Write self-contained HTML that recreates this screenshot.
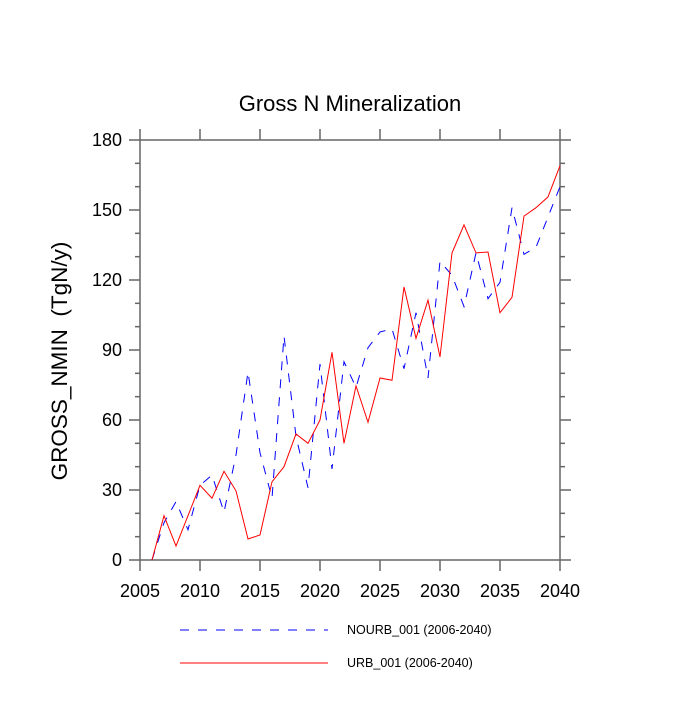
<!DOCTYPE html>
<html><head><meta charset="utf-8"><style>
body{margin:0;background:#fff;}
svg text{font-family:"Liberation Sans",sans-serif;fill:#000;}
</style></head><body>
<svg id="chart" width="700" height="700">
<text x="350" y="111" font-size="22" text-anchor="middle">Gross N Mineralization</text>
<text transform="translate(67,361) rotate(-90)" font-size="22.5" text-anchor="middle" style="white-space:pre">GROSS_NMIN  (TgN/y)</text>
<g id="axes"></g>
<g id="series"></g>
<g id="legend">
<line x1="180" y1="630" x2="328" y2="630" stroke="#0000ff" stroke-width="1" stroke-dasharray="9,9"/>
<text x="347" y="634" font-size="12.5">NOURB_001 (2006-2040)</text>
<line x1="180" y1="663" x2="328" y2="663" stroke="#ff0000" stroke-width="1"/>
<text x="347" y="667" font-size="12.5">URB_001 (2006-2040)</text>
</g>
</svg>
<script>
const years=[2006,2007,2008,2009,2010,2011,2012,2013,2014,2015,2016,2017,2018,2019,2020,2021,2022,2023,2024,2025,2026,2027,2028,2029,2030,2031,2032,2033,2034,2035,2036,2037,2038,2039,2040];
const urb=[0,19,6,19,32,26.5,38,29.6,9,10.7,33.5,40,54,50,60,89,50,74.6,59,78,77,117,95,111.4,87,131.6,143.6,131.6,132,106,112.6,147.4,151,155.6,169];
const nourb=[0,16,25,13,32,36.4,20.5,45,80.6,46,26.5,96,53,31,84,39,85,74,91,97.7,99,82,106,78,128,122,108.6,131.6,112,119,151,131,134,147,160];
const xTicks=[2005,2010,2015,2020,2025,2030,2035,2040];
const yTicks=[0,30,60,90,120,150,180];
const X0=140,X1=560,Y0=560,Y1=140;
const xs=v=>X0+(v-2005)/(2040-2005)*(X1-X0);
const ys=v=>Y0-(v/180)*(Y0-Y1);
const NS="http://www.w3.org/2000/svg";
const axes=document.getElementById('axes');
const ser=document.getElementById('series');
function mk(tag,attrs,parent){const e=document.createElementNS(NS,tag);for(const k in attrs)e.setAttribute(k,attrs[k]);parent.appendChild(e);return e;}
const frame=mk('rect',{x:X0,y:Y1,width:X1-X0,height:Y0-Y1,fill:'none',stroke:'#666','stroke-width':1.5},axes);


xTicks.forEach(t=>{
  const x=xs(t);
  const a=mk('line',{x1:x,y1:Y0,x2:x,y2:Y0+11,stroke:'#666','stroke-width':1.5},axes);
  
  
  const b=mk('line',{x1:x,y1:Y1,x2:x,y2:Y1-11,stroke:'#666','stroke-width':1.5},axes);
  
  
  const l=mk('text',{x:x,y:Y0+37,'font-size':18,'text-anchor':'middle'},axes);
  l.textContent=t;
  
  
});
for(let v=0;v<=180;v+=10){
  const y=ys(v);const major=v%30===0;const len=major?11:5;
  const a=mk('line',{x1:X0-len,y1:y,x2:X0,y2:y,stroke:'#666','stroke-width':1.5},axes);
  
  
  const b=mk('line',{x1:X1,y1:y,x2:X1+len,y2:y,stroke:'#666','stroke-width':1.5},axes);
  
  
}
yTicks.forEach(t=>{
  const l=mk('text',{x:X0-18,y:ys(t)+6,'font-size':18,'text-anchor':'end'},axes);
  l.textContent=t;
  
  
});
const pts=arr=>arr.map((v,i)=>xs(years[i]).toFixed(1)+','+ys(v).toFixed(1)).join(' ');
const nl=mk('polyline',{points:pts(nourb),fill:'none',stroke:'#0000ff','stroke-width':1,'stroke-dasharray':'9,9'},ser);


const ul=mk('polyline',{points:pts(urb),fill:'none',stroke:'#ff0000','stroke-width':1},ser);


</script>
</body></html>
